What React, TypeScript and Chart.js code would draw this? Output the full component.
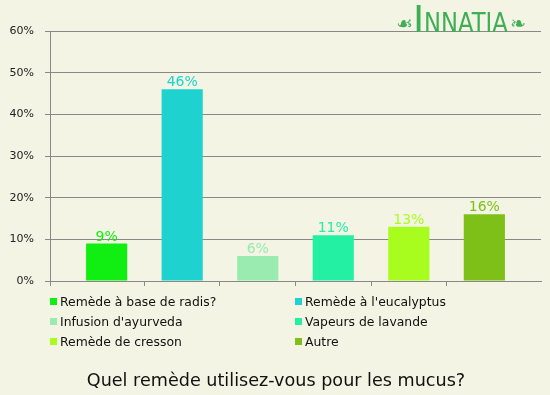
import React, { useEffect, useRef } from "react";
import { Chart, registerables } from "chart.js";

Chart.register(...registerables);

const categories = [
  "Remède à base de radis?",
  "Remède à l'eucalyptus",
  "Infusion d'ayurveda",
  "Vapeurs de lavande",
  "Remède de cresson",
  "Autre",
];
const values = [9, 46, 6, 11, 13, 16];
const colors = ["#11ee11", "#1ed3cf", "#99ebb0", "#23f0a3", "#a8fd1e", "#7fc018"];
const yTicks = [0, 10, 20, 30, 40, 50, 60];
const title = "Quel remède utilisez-vous pour les mucus?";

const FONT = "'DejaVu Sans', Verdana, sans-serif";

const valueLabels = {
  id: "valueLabels",
  afterDatasetsDraw(chart: any) {
    const ctx = chart.ctx;
    const meta = chart.getDatasetMeta(0);
    ctx.save();
    ctx.font = `14px ${FONT}`;
    ctx.textAlign = "center";
    ctx.textBaseline = "alphabetic";
    meta.data.forEach((el: any, i: number) => {
      ctx.fillStyle = colors[i];
      ctx.fillText(values[i] + "%", el.x, el.y - 3);
    });
    ctx.restore();
  },
};

export default function App() {
  const ref = useRef<HTMLCanvasElement>(null);

  useEffect(() => {
    if (!ref.current) return;
    const chart = new Chart(ref.current, {
      type: "bar",
      data: {
        datasets: [
          {
            label: "Réponses",
            data: values.map((v, i) => ({ x: i, y: v })),
            backgroundColor: colors,
            borderWidth: 0,
            barPercentage: 0.545,
            categoryPercentage: 1,
          },
        ],
      },
      options: {
        animation: false,
        responsive: false,
        maintainAspectRatio: false,
        layout: { padding: { left: 0, top: 31, right: 9, bottom: 104 } },
        plugins: {
          legend: { display: false },
          tooltip: { enabled: false },
          title: { display: false },
        },
        scales: {
          x: {
            type: "linear",
            min: -0.75,
            max: 5.75,
            offset: false,
            afterBuildTicks: (s: any) => {
              s.ticks = [-0.75, 0.5, 1.5, 2.5, 3.5, 4.5].map((v) => ({ value: v }));
            },
            ticks: { display: false },
            grid: {
              offset: false,
              drawOnChartArea: false,
              drawTicks: true,
              tickLength: 5,
              color: "#888888",
              lineWidth: 1,
            },
            border: { color: "#888888", width: 1 },
            afterFit: (s: any) => {
              s.height = 10;
            },
          },
          y: {
            min: 0,
            max: 60,
            afterBuildTicks: (s: any) => {
              s.ticks = yTicks.map((v) => ({ value: v }));
            },
            ticks: {
              callback: (v: any) => v + "%",
              font: { family: FONT, size: 11 },
              color: "#222222",
              padding: 11,
            },
            grid: { color: "#888888", tickLength: 5, lineWidth: 1 },
            border: { color: "#888888", width: 1 },
            afterFit: (s: any) => {
              s.width = 50;
            },
          },
        },
      } as any,
      plugins: [valueLabels],
    });
    return () => chart.destroy();
  }, []);

  const legendPos = [
    [50, 302],
    [295, 302],
    [50, 322],
    [295, 322],
    [50, 342],
    [295, 342],
  ];

  return (
    <div
      style={{
        position: "absolute",
        left: 0,
        top: 0,
        width: 550,
        height: 395,
        background: "#f3f4e3",
        fontFamily: FONT,
        overflow: "hidden",
      }}
    >
      <canvas ref={ref} width={550} height={395} style={{ position: "absolute", left: 0, top: 0 }} />
      <div
        style={{
          position: "absolute",
          left: 396,
          top: 0,
          color: "#3fae55",
          fontFamily: FONT,
          whiteSpace: "nowrap",
          lineHeight: "38px",
          height: 38,
        }}
      >
        <span style={{ fontSize: 19, position: "relative", top: -2 }}>☙</span>
        <span style={{ fontSize: 38 }}>I</span>
        <span
          style={{
            fontSize: 27,
            display: "inline-block",
            transform: "scaleX(0.84)",
            transformOrigin: "left center",
            width: 86,
          }}
        >
          NNATIA
        </span>
        <span style={{ fontSize: 19, position: "relative", top: -2 }}>❧</span>
      </div>
      {categories.map((c, i) => (
        <div
          key={c}
          style={{
            position: "absolute",
            left: legendPos[i][0],
            top: legendPos[i][1] - 9,
            height: 18,
            lineHeight: "18px",
            fontSize: 12.4,
            color: "#111",
            whiteSpace: "nowrap",
          }}
        >
          <span
            style={{
              display: "inline-block",
              width: 7,
              height: 7,
              background: colors[i],
              marginRight: 3,
              verticalAlign: "middle",
              position: "relative",
              top: -1,
            }}
          />
          {c}
        </div>
      ))}
      <div
        style={{
          position: "absolute",
          left: 0,
          width: 552,
          top: 368,
          textAlign: "center",
          fontSize: 17.6,
          color: "#111",
          lineHeight: "24px",
        }}
      >
        {title}
      </div>
    </div>
  );
}
